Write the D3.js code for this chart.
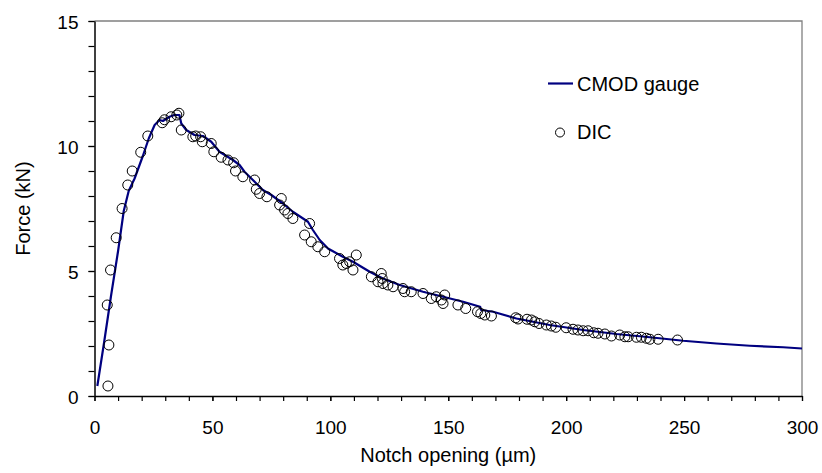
<!DOCTYPE html>
<html>
<head>
<meta charset="utf-8">
<script src="https://cdn.jsdelivr.net/npm/d3@7"></script>
<style>
	body { margin: 0; background: #fff; }
	text { font-family: "Liberation Sans", Arial, sans-serif; fill: #000; }
</style>
</head>
<body>
<div id="fig_force"></div>
<script>
	// CMOD gauge curve (notch opening in um, force in kN)
	var cmodX = [1.2, 4, 7, 10, 12.4, 14.5, 17, 20.5, 23, 25.5, 27.6, 29, 31.8, 33.9, 36, 36.8, 38.9, 42.4, 46, 49.5,
		53, 58.7, 61.5, 63.6, 67.9, 71.4, 75, 79.9, 84.1, 90.5, 92.6, 95.5, 99, 105.3, 109.6, 116.7, 122.3, 129.4,
		139.3, 147.8, 156.3, 163.5, 164, 169, 178.9, 193, 207.2, 221.3, 235.5, 249.6, 263.7, 277.9, 292, 300];
	var cmodF = [0.4, 2.1, 4.0, 5.8, 7.4, 8.2, 8.7, 9.6, 10.3, 10.84, 11.04, 11.0, 11.17, 11.24, 11.24, 10.9, 10.64, 10.44, 10.4, 10.17,
		9.77, 9.44, 9.24, 8.97, 8.57, 8.24, 8.04, 7.7, 7.37, 6.97, 6.64, 6.24, 5.9, 5.57, 5.37, 4.97, 4.7, 4.44,
		4.17, 3.97, 3.77, 3.57, 3.44, 3.37, 3.1, 2.84, 2.64, 2.48, 2.35, 2.21, 2.1, 2.01, 1.95, 1.9];

	// DIC measurements
	var dicX = [5.7, 6.1, 5.4, 6.8, 9.2, 11.7, 14.1, 16, 19.6, 22.6, 28.7, 29.7, 32.5, 34.9, 35.8, 36.8, 41.7, 42.9, 45, 45.7,
		49.5, 50.6, 53.7, 56.6, 59, 59.8, 62.9, 67.9, 68.6, 70, 73.1, 79.2, 78.5, 80.6, 82, 84.1, 91.2, 89.1, 91.9, 94.7,
		97.6, 103.9, 105.3, 106.8, 108.2, 109.6, 111, 117.4, 120.2, 121.6, 122, 122.3, 124.4, 126.6, 130.8, 131.5, 134.3, 139.3, 142.8, 144.9,
		147.1, 148.5, 147.8, 154.1, 157.4, 162.4, 163.8, 165.5, 168.3, 178.6, 179.6, 183.4, 185.3, 186.7, 188.5, 191.6, 193.7, 195.6, 200, 202.9,
		205, 207.2, 209.3, 211.7, 213.5, 216.4, 219.2, 222.7, 224.9, 226.3, 229.8, 231.9, 234, 235.5, 239, 247.2];
	var dicF = [0.4, 2.04, 3.64, 5.04, 6.33, 7.5, 8.44, 9.0, 9.75, 10.4, 10.93, 11.05, 11.17, 11.24, 11.31, 10.64, 10.37, 10.4, 10.37, 10.17,
		10.1, 9.77, 9.55, 9.44, 9.33, 9.0, 8.77, 8.64, 8.27, 8.1, 7.97, 7.9, 7.64, 7.44, 7.3, 7.1, 6.9, 6.44, 6.17, 5.97,
		5.77, 5.5, 5.24, 5.3, 5.37, 5.04, 5.64, 4.77, 4.57, 4.9, 4.7, 4.5, 4.44, 4.37, 4.3, 4.17, 4.17, 4.1, 3.9, 3.97,
		3.84, 4.04, 3.7, 3.64, 3.5, 3.37, 3.3, 3.24, 3.2, 3.13, 3.08, 3.07, 3.04, 2.97, 2.9, 2.84, 2.8, 2.75, 2.73, 2.67,
		2.64, 2.61, 2.61, 2.53, 2.51, 2.48, 2.4, 2.44, 2.37, 2.37, 2.35, 2.35, 2.31, 2.27, 2.27, 2.24];

	// tick labels
	var xTicks = [0, 50, 100, 150, 200, 250, 300];
	var yTicks = [0, 5, 10, 15];
	var seriesNames = ["CMOD gauge", "DIC"];

	var width = 822, height = 473;
	var plotLeft = 94.5, plotRight = 802, plotTop = 21, plotBottom = 396;

	var x = d3.scaleLinear().domain([0, 300]).range([plotLeft, plotRight]);
	var y = d3.scaleLinear().domain([0, 15]).range([plotBottom, plotTop]);

	var svg = d3.select("#fig_force")
		.append("svg")
		.attr("width", width)
		.attr("height", height);

	// grey frame on top and right
	svg.append("path")
		.attr("d", "M" + plotLeft + "," + plotTop + "H" + plotRight + "V" + plotBottom)
		.attr("fill", "none")
		.attr("stroke", "#808080")
		.attr("stroke-width", 1.3);

	// x axis: minor ticks every 10, labels every 50
	svg.append("g")
		.attr("transform", "translate(0," + plotBottom + ")")
		.call(d3.axisBottom(x).ticks(30).tickSize(5).tickFormat(""))
		.call(function(g) { g.select(".domain").remove(); })
		.selectAll("line").attr("stroke-width", 1.2);

	var xAxis = svg.append("g")
		.attr("transform", "translate(0," + plotBottom + ")")
		.call(d3.axisBottom(x).tickValues(xTicks).tickSize(5).tickPadding(33).tickSizeOuter(0));
	xAxis.select(".domain").attr("stroke-width", 1.5);
	xAxis.selectAll("line").attr("stroke-width", 1.2);
	xAxis.selectAll("text")
		.attr("font-size", 19)
		.attr("font-family", "Liberation Sans, Arial, sans-serif")
		.attr("dy", "0");

	// y axis: minor ticks every 1 kN
	svg.append("g")
		.attr("transform", "translate(" + plotLeft + ",0)")
		.call(d3.axisLeft(y).ticks(15).tickSize(6).tickFormat(""))
		.call(function(g) { g.select(".domain").remove(); })
		.selectAll("line").attr("stroke-width", 1.2);

	var yAxis = svg.append("g")
		.attr("transform", "translate(" + plotLeft + ",0)")
		.call(d3.axisLeft(y).tickValues(yTicks).tickSize(6).tickPadding(10).tickSizeOuter(0));
	yAxis.select(".domain").attr("stroke-width", 1.5);
	yAxis.selectAll("line").attr("stroke-width", 1.2);
	yAxis.selectAll("text")
		.attr("font-size", 19)
		.attr("font-family", "Liberation Sans, Arial, sans-serif")
		.attr("dy", "0.4em");

	// CMOD gauge line
	var line = d3.line()
		.x(function(d, i) { return x(cmodX[i]); })
		.y(function(d, i) { return y(cmodF[i]); });

	svg.append("path")
		.attr("d", line(cmodX))
		.attr("fill", "none")
		.attr("stroke", "#000080")
		.attr("stroke-width", 2.2)
		.attr("stroke-linejoin", "round");

	// DIC circles
	svg.selectAll(".dic")
		.data(dicX)
		.enter()
		.append("circle")
		.attr("class", "dic")
		.attr("cx", function(d) { return x(d); })
		.attr("cy", function(d, i) { return y(dicF[i]); })
		.attr("r", 5)
		.attr("fill", "none")
		.attr("stroke", "#000")
		.attr("stroke-width", 1);

	// axis titles
	svg.append("text")
		.attr("x", (plotLeft + plotRight) / 2)
		.attr("y", 462)
		.attr("text-anchor", "middle")
		.attr("font-size", 20)
		.text("Notch opening (\u00b5m)");

	svg.append("text")
		.attr("transform", "translate(29.5," + (plotTop + plotBottom) / 2 + ") rotate(-90)")
		.attr("text-anchor", "middle")
		.attr("font-size", 20)
		.text("Force (kN)");

	// legend
	var legend = svg.append("g");
	legend.append("line")
		.attr("x1", 548).attr("x2", 573)
		.attr("y1", 83.5).attr("y2", 83.5)
		.attr("stroke", "#000080")
		.attr("stroke-width", 2.2);
	legend.append("circle")
		.attr("cx", 560).attr("cy", 132.5)
		.attr("r", 4.5)
		.attr("fill", "none")
		.attr("stroke", "#000");
	legend.selectAll("text")
		.data(seriesNames)
		.enter()
		.append("text")
		.attr("x", 577)
		.attr("y", function(d, i) { return 91 + i * 48; })
		.attr("font-size", 20)
		.text(function(d) { return d; });
</script>
</body>
</html>
